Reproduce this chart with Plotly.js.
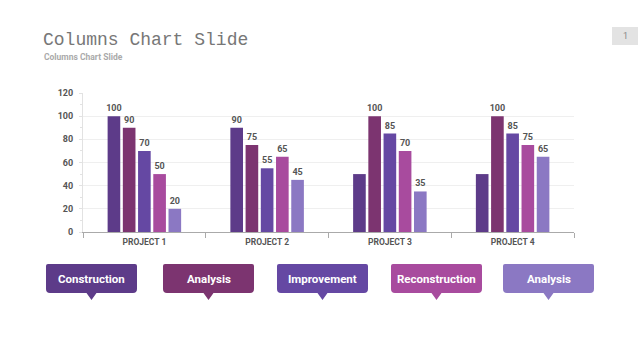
<!DOCTYPE html>
<html><head><meta charset="utf-8">
<script src="https://cdn.plot.ly/plotly-3.0.1.min.js"></script>
<style>html,body{margin:0;padding:0;background:#fff}#chart{width:640px;height:360px}</style>
</head><body><div id="chart"></div>
<script>
const categories = ["PROJECT 1","PROJECT 2","PROJECT 3","PROJECT 4"];
const seriesNames = ["Construction","Analysis","Improvement","Reconstruction","Analysis"];
const construction = [100, 90, 50, 50];
const analysisA = [90, 75, 100, 100];
const improvement = [70, 55, 85, 85];
const reconstruction = [50, 65, 70, 75];
const analysisB = [20, 45, 35, 65];
const constructionLabels = ["100","90","",""];
const analysisALabels = ["90","75","100","100"];
const improvementLabels = ["70","55","85","85"];
const reconstructionLabels = ["50","65","70","75"];
const analysisBLabels = ["20","45","35","65"];
const yTicks = [0,20,40,60,80,100,120];

const colors = ["#5d3b89","#7c3470","#6548a3","#a84b9e","#8b78c3"];
const seriesValues = [construction, analysisA, improvement, reconstruction, analysisB];
const seriesLabels = [constructionLabels, analysisALabels, improvementLabels, reconstructionLabels, analysisBLabels];
const fam = "Roboto, sans-serif";

const W = 640, H = 360, L = 83, R = 66, T = 93, B = 128;
const PW = W - L - R, PH = H - T - B;
const px = x => (x - L) / PW;
const py = y => (H - B - y) / PH;

const traces = seriesValues.map((vals, i) => ({
  type: "bar", x: categories, y: vals, name: seriesNames[i],
  marker: {color: colors[i]},
  text: seriesLabels[i], textposition: "outside", cliponaxis: false, constraintext: "none",
  textfont: {family: fam, size: 9, color: "#555", weight: 700},
  hoverinfo: "none"
}));

function callout(x0, x1, y0, y1, tipX, tipY, color) {
  const rt = 2, rb = 4, hw = 5;
  const p = (x, y) => px(x).toFixed(5) + "," + py(y).toFixed(5);
  const d = "M" + p(x0 + rt, y0) + " L" + p(x1 - rt, y0) + " Q" + p(x1, y0) + " " + p(x1, y0 + rt) +
    " L" + p(x1, y1 - rb) + " Q" + p(x1, y1) + " " + p(x1 - rb, y1) +
    " L" + p(tipX + hw, y1) + " L" + p(tipX, tipY) + " L" + p(tipX - hw, y1) +
    " L" + p(x0 + rb, y1) + " Q" + p(x0, y1) + " " + p(x0, y1 - rb) +
    " L" + p(x0, y0 + rt) + " Q" + p(x0, y0) + " " + p(x0 + rt, y0) + " Z";
  return {type: "path", xref: "paper", yref: "paper", path: d, fillcolor: color, line: {width: 0}, layer: "above"};
}

const boxes = [[46,137],[163,254],[277,368],[391,482],[503,594]];
const shapes = boxes.map((b, i) => callout(b[0], b[1], 264, 293, (b[0]+b[1])/2, 300, colors[i]));
shapes.push({type: "rect", xref: "paper", yref: "paper", x0: px(612), x1: px(638), y0: py(45), y1: py(27), fillcolor: "#e3e3e3", line: {width: 0}});

const annotations = boxes.map((b, i) => ({
  xref: "paper", yref: "paper", x: px((b[0]+b[1])/2), y: py(279), xanchor: "center", yanchor: "middle",
  text: seriesNames[i], showarrow: false, font: {family: fam, size: 11.5, color: "#fff", weight: 700}
}));
annotations.push({xref: "paper", yref: "paper", x: px(41), y: py(40), xanchor: "left", yanchor: "middle",
  text: "Columns Chart Slide", showarrow: false, font: {family: "Liberation Mono", size: 18, color: "#777"}});
annotations.push({xref: "paper", yref: "paper", x: px(42), y: py(57), xanchor: "left", yanchor: "middle",
  text: "Columns Chart Slide", showarrow: false, font: {family: fam, size: 8.5, color: "#aaa", weight: 700}});
annotations.push({xref: "paper", yref: "paper", x: px(625), y: py(36), xanchor: "center", yanchor: "middle",
  text: "1", showarrow: false, font: {family: fam, size: 9, color: "#888"}});

const layout = {
  width: W, height: H, margin: {l: L, r: R, t: T, b: B},
  paper_bgcolor: "#fff", plot_bgcolor: "#fff",
  barmode: "group", bargap: 0.38, bargroupgap: 0.17, showlegend: false,
  font: {family: fam, color: "#555"},
  xaxis: {showline: true, linecolor: "#aaa", linewidth: 1, ticks: "outside", tickson: "boundaries",
    ticklen: 5, tickcolor: "#aaa", tickfont: {family: fam, size: 8.5, color: "#555", weight: 700},
    ticklabelstandoff: 2, showgrid: false, fixedrange: true},
  yaxis: {range: [0, 120], tickvals: yTicks, showline: true, linecolor: "#e2e2e2", gridcolor: "#efefef",
    zeroline: false, ticks: "outside", ticklen: 3, tickcolor: "#e2e2e2",
    minor: {dtick: 10, ticks: "outside", ticklen: 2, tickcolor: "#e2e2e2", showgrid: false},
    tickfont: {family: fam, size: 9, color: "#555", weight: 700}, ticklabelstandoff: 4, fixedrange: true},
  shapes: shapes, annotations: annotations
};
Plotly.newPlot("chart", traces, layout, {staticPlot: true, displayModeBar: false});
</script></body></html>
